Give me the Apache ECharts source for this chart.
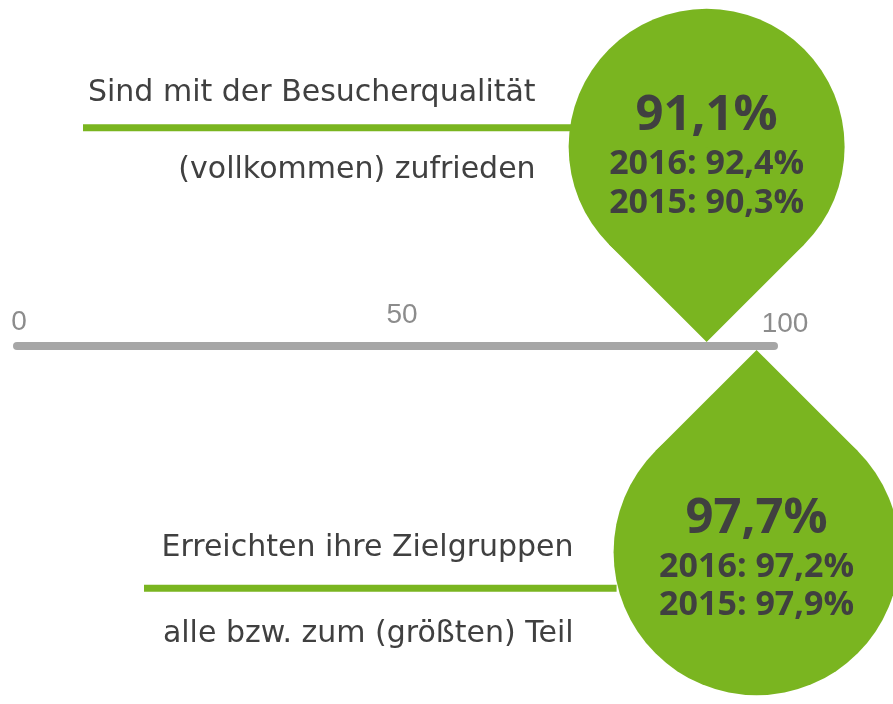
<!DOCTYPE html>
<html>
<head>
<meta charset="utf-8">
<script src="https://cdn.jsdelivr.net/npm/echarts@6/dist/echarts.min.js"></script>
<style>
  html, body { margin: 0; padding: 0; background: #fff; }
  #chart { width: 893px; height: 704px; }
</style>
</head>
<body>
<div id="chart"></div>
<script>
// data
const titles = ['Sind mit der Besucherqualität', 'Erreichten ihre Zielgruppen'];
const subtitles = ['(vollkommen) zufrieden', 'alle bzw. zum (größten) Teil'];
const values = [91.1, 97.7];
const values2016 = [92.4, 97.2];
const values2015 = [90.3, 97.9];
const axisTicks = [0, 50, 100];

const GREEN = '#7ab520';
const DARK = '#404040';
const FONT = '"Open Sans", "Noto Sans", sans-serif';
const LABEL_FONT = '"DejaVu Sans", sans-serif';

// drop layout per row (dir -1 = drop above the axis, tip pointing down)
const layout = [
  { dir: -1, r: 138, lineY: -19, lineStart: 83, textRight: -171, t1: -54, t2: 23, big: -31, y16: 17, y15: 56 },
  { dir: 1, r: 143, lineY: 36, lineStart: 144, textRight: -183, t1: -4, t2: 82, big: -33, y16: 15, y15: 53 }
];

function fmt(v) {
  return v.toFixed(1).replace('.', ',') + '%';
}

function renderItem(params, api) {
  const i = params.dataIndex;
  const L = layout[i];
  const p = api.coord([api.value(0), 0]);
  const tipX = p[0];
  const tipY = p[1] + L.dir * 4;
  const cx = tipX;
  const cy = tipY + L.dir * L.r * Math.SQRT2;
  const k = L.r / Math.SQRT2;
  const ty = cy - L.dir * k;
  const txt = (text, x, y, size, weight, align, family) => ({
    type: 'text',
    x: x, y: y,
    style: {
      text: text, fill: DARK, fontSize: size, fontWeight: weight,
      fontFamily: family, align: align, verticalAlign: 'middle'
    }
  });
  return {
    type: 'group',
    children: [
      {
        type: 'line',
        shape: { x1: L.lineStart, y1: cy + L.lineY, x2: cx - L.r + 3, y2: cy + L.lineY },
        style: { stroke: GREEN, lineWidth: 7 }
      },
      { type: 'circle', shape: { cx: cx, cy: cy, r: L.r }, style: { fill: GREEN } },
      {
        type: 'polygon',
        shape: { points: [[tipX, tipY], [cx + k, ty], [cx, cy], [cx - k, ty]] },
        style: { fill: GREEN }
      },
      txt(fmt(api.value(0)), cx, cy + L.big, 49, 'bold', 'center', FONT),
      txt('2016: ' + fmt(values2016[i]), cx, cy + L.y16, 34, 'bold', 'center', FONT),
      txt('2015: ' + fmt(values2015[i]), cx, cy + L.y15, 34, 'bold', 'center', FONT),
      txt(titles[i], tipX + L.textRight, cy + L.t1, 30, 'normal', 'right', LABEL_FONT),
      txt(subtitles[i], tipX + L.textRight, cy + L.t2, 30, 'normal', 'right', LABEL_FONT)
    ]
  };
}

const tickStyle = { color: '#8c8c8c', fontSize: 28, fontFamily: '"Liberation Sans Narrow", "Liberation Sans", sans-serif' };

const chart = echarts.init(document.getElementById('chart'));
chart.setOption({
  animation: false,
  grid: { left: 17, right: 119, top: 0, bottom: 358 },
  xAxis: {
    type: 'value',
    min: axisTicks[0],
    max: axisTicks[axisTicks.length - 1],
    interval: 50,
    axisLine: { show: true, lineStyle: { color: '#a6a6a6', width: 8 } },
    axisTick: { show: false },
    splitLine: { show: false },
    axisLabel: {
      inside: true,
      margin: 8,
      color: '#8c8c8c',
      fontSize: 28,
      formatter: v => '{t' + v + '|' + v + '}',
      rich: {
        t0: Object.assign({ padding: [0, 0, 2, 4] }, tickStyle),
        t50: Object.assign({ padding: [0, 0, 9, 13] }, tickStyle),
        t100: Object.assign({ padding: [0, 0, 0, 22] }, tickStyle)
      }
    }
  },
  yAxis: { type: 'value', min: 0, max: 1, show: false },
  series: [{
    type: 'custom',
    coordinateSystem: 'cartesian2d',
    clip: false,
    renderItem: renderItem,
    encode: { x: 0 },
    data: values.map(v => [v])
  }]
});
</script>
</body>
</html>
